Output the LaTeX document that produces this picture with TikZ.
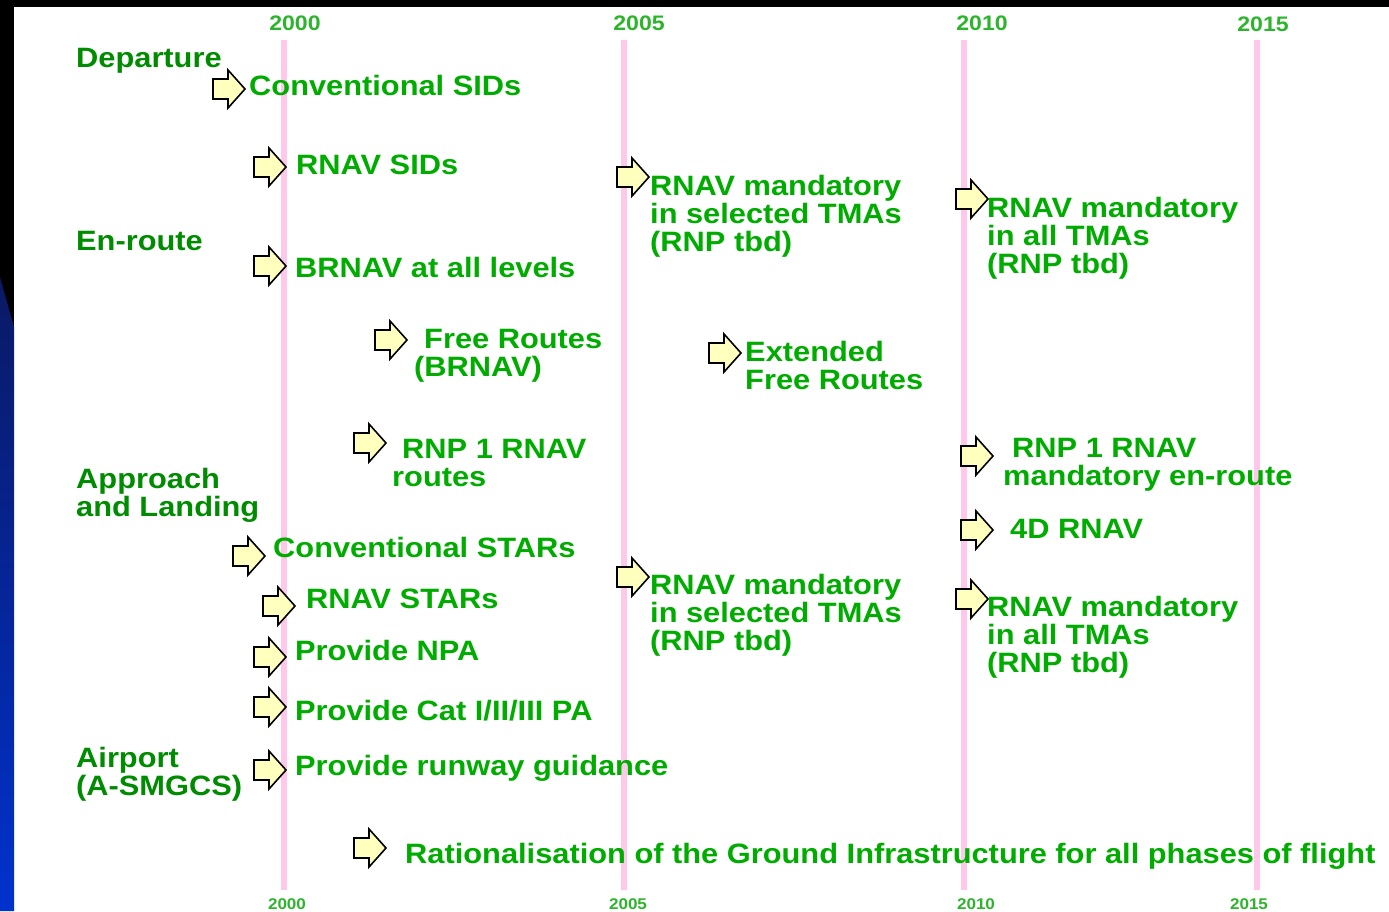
\documentclass[tikz,border=0pt]{standalone}
\usepackage{fontspec}
\setmainfont{Liberation Sans}[FakeStretch=1.1]
\definecolor{itemgreen}{RGB}{0,172,0}
\definecolor{catgreen}{RGB}{0,140,0}
\definecolor{yeargreen}{RGB}{45,180,45}
\definecolor{linepink}{RGB}{255,200,235}
\definecolor{arrowfill}{RGB}{255,255,190}
\definecolor{navytop}{RGB}{10,25,100}
\definecolor{bluebot}{RGB}{0,50,205}
\tikzset{
  item/.style={text=itemgreen, font=\bfseries\fontsize{28}{28}\selectfont, inner sep=0pt, anchor=base west, align=left},
  cat/.style={text=catgreen, font=\bfseries\fontsize{28}{28}\selectfont, inner sep=0pt, anchor=base west, align=left},
  yeartop/.style={text=yeargreen, font=\bfseries\fontsize{21}{21}\selectfont, inner sep=0pt, anchor=base},
  yearbot/.style={text=yeargreen, font=\bfseries\fontsize{15.5}{15.5}\selectfont, inner sep=0pt, anchor=base},
  yearline/.style={draw=linepink, line width=6pt},
  arrowshape/.style={draw=black, fill=arrowfill, line width=1.6pt, line join=miter},
  barrow/.pic={\path[arrowshape] (0,-10) -- (15,-10) -- (15,-19) -- (32,0) -- (15,19) -- (15,10) -- (0,10) -- cycle;}
}
\begin{document}
\begin{tikzpicture}[x=1pt,y=-1pt]
\useasboundingbox (0,0) rectangle (1389,911);
\fill[black] (0,0) rectangle (1389,911);
\fill[white] (14,7) rectangle (1389,911);
\shade[top color=navytop, bottom color=bluebot] (0,277) -- (14,327) -- (14,911) -- (0,911) -- cycle;

% year lines
\coordinate (l0t) at (284,40); \coordinate (l0b) at (284,890);
\coordinate (l5t) at (624,40); \coordinate (l5b) at (624,890);
\coordinate (l10t) at (964,40); \coordinate (l10b) at (964,890);
\coordinate (l15t) at (1257,40); \coordinate (l15b) at (1257,890);
\draw[yearline] (l0t) -- (l0b);
\draw[yearline] (l5t) -- (l5b);
\draw[yearline] (l10t) -- (l10b);
\draw[yearline] (l15t) -- (l15b);

% year labels
\node[yeartop] (y0t) at (295,30) {2000};
\node[yeartop] (y5t) at (639,30) {2005};
\node[yeartop] (y10t) at (982,30) {2010};
\node[yeartop] (y15t) at (1263,31) {2015};
\node[yearbot] (y0b) at (287,909) {2000};
\node[yearbot] (y5b) at (628,909) {2005};
\node[yearbot] (y10b) at (976,909) {2010};
\node[yearbot] (y15b) at (1249,909) {2015};

% categories (multi-line nodes are placed by their last baseline)
\node[cat] (dep) at (76,67) {Departure};
\node[cat] (enr) at (76,250) {En-route};
\node[cat] (app) at (76,516) {Approach\\and Landing};
\node[cat] (apt) at (76,795) {Airport\\(A-SMGCS)};

% arrows
\pic at (213,89) {barrow};
\pic at (254,167) {barrow};
\pic at (617,177) {barrow};
\pic at (956,199) {barrow};
\pic at (254,266) {barrow};
\pic at (375,340) {barrow};
\pic at (709,353) {barrow};
\pic at (354,443) {barrow};
\pic at (961,456) {barrow};
\pic at (961,530) {barrow};
\pic at (233,556) {barrow};
\pic at (617,577) {barrow};
\pic at (956,599) {barrow};
\pic at (263,606) {barrow};
\pic at (254,657) {barrow};
\pic at (254,707) {barrow};
\pic at (254,770) {barrow};
\pic at (354,848) {barrow};

% items
\node[item] (csid) at (249,95) {Conventional SIDs};
\node[item] (rsid) at (296,174) {RNAV SIDs};
\node[item] (rmsel1) at (650,251) {RNAV mandatory\\in selected TMAs\\(RNP tbd)};
\node[item] (rmall1) at (987,273) {RNAV mandatory\\in all TMAs\\(RNP tbd)};
\node[item] (brnav) at (295,277) {BRNAV at all levels};
\node[item] (free) at (414,376) {\hspace*{10pt}Free Routes\\(BRNAV)};
\node[item] (efree) at (745,389) {Extended\\Free Routes};
\node[item] (rnp1) at (392,486) {\hspace*{10pt}RNP 1 RNAV\\routes};
\node[item] (rnp1m) at (1003,485) {\hspace*{9pt}RNP 1 RNAV\\mandatory en-route};
\node[item] (fourd) at (1010,538) {4D RNAV};
\node[item] (cstar) at (273,557) {Conventional STARs};
\node[item] (rmsel2) at (650,650) {RNAV mandatory\\in selected TMAs\\(RNP tbd)};
\node[item] (rmall2) at (987,672) {RNAV mandatory\\in all TMAs\\(RNP tbd)};
\node[item] (rstar) at (306,608) {RNAV STARs};
\node[item] (npa) at (295,660) {Provide NPA};
\node[item] (pa) at (295,720) {Provide Cat I/II/III PA};
\node[item] (rwy) at (295,775) {Provide runway guidance};
\node[item] (rat) at (405,863) {Rationalisation of the Ground Infrastructure for all phases of flight};
\end{tikzpicture}
\end{document}
